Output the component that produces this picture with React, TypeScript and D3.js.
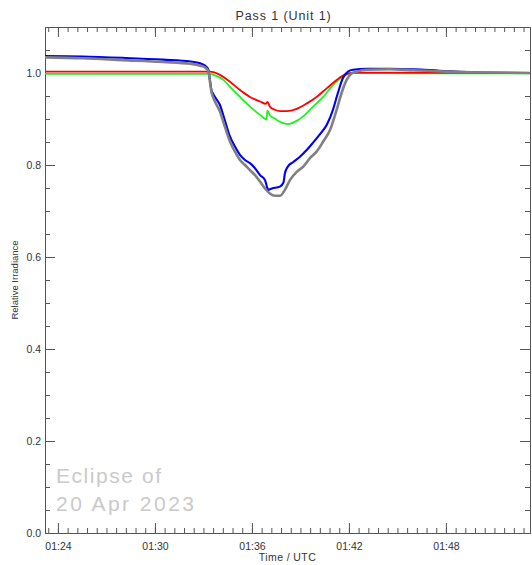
import { useEffect, useRef } from "react";
import * as d3 from "d3";

// time in minutes after 01:00 UTC
const redTimes = [23.2, 30, 33.4, 34.02, 34.64, 35.26, 35.88, 36.5, 36.87, 36.96, 37.11, 37.42, 37.73, 38.14, 38.77, 39.4, 40.0, 40.64, 41.24, 41.86, 42.48, 45, 53.2];
const redValues = [1.003, 1.003, 1.003, 0.996, 0.981, 0.963, 0.948, 0.938, 0.933, 0.937, 0.927, 0.92, 0.917, 0.917, 0.922, 0.934, 0.948, 0.967, 0.985, 0.998, 1.001, 1.001, 1.0];

const greenTimes = [23.2, 30, 33.4, 33.82, 34.23, 34.64, 35.26, 35.88, 36.5, 36.9, 36.96, 37.11, 37.42, 37.84, 38.25, 38.77, 39.28, 39.79, 40.41, 41.03, 41.65, 42.27, 44, 47, 53.2];
const greenValues = [0.998, 0.998, 0.998, 0.993, 0.985, 0.97, 0.948, 0.927, 0.909, 0.899, 0.918, 0.908, 0.901, 0.892, 0.889, 0.896, 0.909, 0.927, 0.948, 0.974, 0.993, 1.0, 1.0, 0.999, 0.999];

const blueTimes = [23.2, 25.5, 28, 30.5, 32.2, 32.8, 33.1, 33.3, 33.4, 33.5, 33.6, 33.75, 34.0, 34.3, 34.64, 34.95, 35.26, 35.57, 35.88, 36.19, 36.5, 36.81, 36.95, 37.0, 37.24, 37.73, 37.95, 38.04, 38.23, 38.54, 38.97, 39.4, 39.77, 40.21, 40.64, 41.01, 41.32, 41.63, 41.94, 42.25, 43.1, 44.5, 46, 47.6, 50, 53.2];
const blueValues = [1.037, 1.036, 1.033, 1.029, 1.025, 1.021, 1.016, 1.008, 0.985, 0.962, 0.955, 0.946, 0.932, 0.9, 0.862, 0.84, 0.822, 0.811, 0.804, 0.793, 0.778, 0.767, 0.75, 0.746, 0.749, 0.753, 0.762, 0.782, 0.797, 0.806, 0.818, 0.833, 0.848, 0.867, 0.888, 0.92, 0.957, 0.989, 1.003, 1.007, 1.009, 1.009, 1.008, 1.005, 1.001, 1.0];

const grayTimes = [23.2, 25.5, 28, 30.5, 32.2, 32.8, 33.1, 33.3, 33.4, 33.5, 33.59, 34.02, 34.33, 34.64, 34.95, 35.26, 35.57, 35.88, 36.19, 36.5, 36.81, 37.11, 37.42, 37.73, 38.04, 38.35, 38.77, 39.16, 39.59, 40.0, 40.41, 40.83, 41.24, 41.55, 41.86, 42.17, 42.48, 43.1, 44.5, 46, 48, 50, 53.2];
const grayValues = [1.034, 1.032, 1.028, 1.024, 1.02, 1.016, 1.012, 1.004, 0.982, 0.958, 0.948, 0.916, 0.883, 0.851, 0.829, 0.811, 0.8, 0.789, 0.778, 0.764, 0.749, 0.738, 0.733, 0.733, 0.746, 0.767, 0.785, 0.796, 0.815, 0.829, 0.851, 0.876, 0.92, 0.957, 0.985, 0.999, 1.003, 1.007, 1.008, 1.006, 1.003, 1.001, 1.0];

const xMajorTicks = [24, 30, 36, 42, 48];
const yMajorTicks = [0, 0.2, 0.4, 0.6, 0.8, 1.0];

const title = "Pass 1 (Unit 1)";
const xTitle = "Time / UTC";
const yTitle = "Relative Irradiance";
const noteLines = ["Eclipse of", "20 Apr 2023"];

const App = () => {
  const svgRef = useRef<SVGSVGElement | null>(null);
  const width = 532;
  const height = 565;
  const margin = { top: 27, right: 2, bottom: 32, left: 45 };

  useEffect(() => {
    const svg = d3.select(svgRef.current);
    svg.selectAll("*").remove();

    const x = d3.scaleLinear().domain([23.2, 53.2]).range([margin.left, width - margin.right]);
    const y = d3.scaleLinear().domain([0, 1.1]).range([height - margin.bottom, margin.top]);

    const axisColor = "#555";
    const font = "'Liberation Sans', Arial, sans-serif";

    const minorX = d3.range(23.4, 53.2, 0.6);
    const minorY = d3.range(0, 1.09, 0.05);
    const fmtTime = (m: number) => `01:${d3.format("02d")(m)}`;

    const styleAxis = (g: any) => {
      g.select(".domain").attr("stroke", axisColor);
      g.selectAll(".tick line").attr("stroke", axisColor);
      g.selectAll("text")
        .attr("fill", "#333")
        .attr("font-family", font)
        .attr("font-size", 10.5);
    };

    // bottom / top
    const bottom = height - margin.bottom;
    svg.append("g").attr("transform", `translate(0,${bottom})`)
      .call(d3.axisBottom(x).tickValues(minorX).tickSize(-5).tickSizeOuter(0).tickFormat(() => ""))
      .call(styleAxis);
    svg.append("g").attr("transform", `translate(0,${bottom})`)
      .call(d3.axisBottom(x).tickValues(xMajorTicks).tickSize(-10).tickSizeOuter(0).tickPadding(10).tickFormat(fmtTime as any))
      .call(styleAxis);
    svg.append("g").attr("transform", `translate(0,${margin.top})`)
      .call(d3.axisTop(x).tickValues(minorX).tickSize(-5).tickSizeOuter(0).tickFormat(() => ""))
      .call(styleAxis);
    svg.append("g").attr("transform", `translate(0,${margin.top})`)
      .call(d3.axisTop(x).tickValues(xMajorTicks).tickSize(-10).tickSizeOuter(0).tickFormat(() => ""))
      .call(styleAxis);

    // left / right
    const right = width - margin.right;
    svg.append("g").attr("transform", `translate(${margin.left},0)`)
      .call(d3.axisLeft(y).tickValues(minorY).tickSize(-5).tickSizeOuter(0).tickFormat(() => ""))
      .call(styleAxis);
    svg.append("g").attr("transform", `translate(${margin.left},0)`)
      .call(d3.axisLeft(y).tickValues(yMajorTicks).tickSize(-10).tickSizeOuter(0).tickPadding(4).tickFormat(d3.format(".1f") as any))
      .call(styleAxis);
    svg.append("g").attr("transform", `translate(${right},0)`)
      .call(d3.axisRight(y).tickValues(minorY).tickSize(-5).tickSizeOuter(0).tickFormat(() => ""))
      .call(styleAxis);
    svg.append("g").attr("transform", `translate(${right},0)`)
      .call(d3.axisRight(y).tickValues(yMajorTicks).tickSize(-10).tickSizeOuter(0).tickFormat(() => ""))
      .call(styleAxis);

    // curves
    const line = d3.line<[number, number]>()
      .x((d) => x(d[0]))
      .y((d) => y(d[1]))
      .curve(d3.curveMonotoneX);

    const series = [
      { times: greenTimes, values: greenValues, color: "#22ee22", w: 1.8 },
      { times: redTimes, values: redValues, color: "#ff0000", w: 1.8 },
      { times: blueTimes, values: blueValues, color: "#0000ee", w: 2.1 },
      { times: grayTimes, values: grayValues, color: "#808080", w: 2.6 },
    ];

    const plot = svg.append("g");
    series.forEach((s) => {
      const pts = s.times.map((t, i) => [t, s.values[i]] as [number, number]);
      plot.append("path")
        .attr("d", line(pts))
        .attr("fill", "none")
        .attr("stroke", s.color)
        .attr("stroke-width", s.w)
        .attr("stroke-linejoin", "round");
    });

    // annotation
    svg.append("text")
      .attr("x", 56).attr("y", 483)
      .attr("font-family", font).attr("font-size", 21)
      .attr("fill", "#cacaca")
      .attr("textLength", 105).attr("lengthAdjust", "spacing")
      .text(noteLines[0]);
    svg.append("text")
      .attr("x", 56).attr("y", 511)
      .attr("font-family", font).attr("font-size", 21)
      .attr("fill", "#cacaca")
      .attr("textLength", 138).attr("lengthAdjust", "spacing")
      .text(noteLines[1]);

    // titles
    svg.append("text")
      .attr("x", (margin.left + right) / 2 - 4).attr("y", 20)
      .attr("text-anchor", "middle")
      .attr("font-family", font).attr("font-size", 12.5)
      .attr("letter-spacing", 0.9)
      .attr("fill", "#333")
      .text(title);
    svg.append("text")
      .attr("x", (margin.left + right) / 2).attr("y", 561)
      .attr("text-anchor", "middle")
      .attr("font-family", font).attr("font-size", 10.5)
      .attr("letter-spacing", 0.4)
      .attr("fill", "#333")
      .text(xTitle);
    svg.append("text")
      .attr("transform", `translate(18,${(margin.top + bottom) / 2}) rotate(-90)`)
      .attr("text-anchor", "middle")
      .attr("font-family", font).attr("font-size", 9.5)
      .attr("fill", "#333")
      .text(yTitle);
  }, []);

  return (
    <svg
      ref={svgRef}
      width={width}
      height={height}
      style={{ position: "absolute", left: 0, top: 0, background: "#fff" }}
    />
  );
};

export default App;
